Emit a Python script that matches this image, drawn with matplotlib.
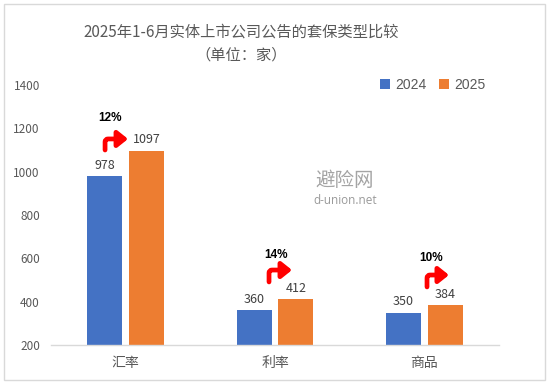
import matplotlib.pyplot as plt
import numpy as np
from matplotlib.patches import Rectangle

plt.rcParams["font.family"] = ["Noto Sans CJK SC", "DejaVu Sans"]

categories = ["汇率", "利率", "商品"]
v2024 = [978, 360, 350]
v2025 = [1097, 412, 384]
growth = ["12%", "14%", "10%"]

# hand-placed bent arrows: (x of riser, y bottom, y of elbow, x of tip, label x, label y)
arrows = [(-0.138, 1100, 1151, 0.016, -0.105, 1248),
          (0.960, 491, 546, 1.114, 1.007, 615),
          (2.018, 468, 523, 2.165, 2.045, 601)]

BLUE, ORANGE = "#4472C4", "#ED7D31"
GREY = "#595959"

fig = plt.figure(figsize=(5.5, 3.84), dpi=100)
ax = fig.add_axes([51 / 550, 39 / 384, 448 / 550, 260 / 384])

x = np.arange(len(categories))
w = 0.235
b1 = ax.bar(x - 0.14, v2024, w, color=BLUE, label="2024", zorder=2)
b2 = ax.bar(x + 0.14, v2025, w, color=ORANGE, label="2025", zorder=2)
for bars in (b1, b2):
    for r in bars:
        ax.annotate(f"{int(r.get_height())}", (r.get_x() + r.get_width() / 2, r.get_height()),
                    xytext=(0, 3), textcoords="offset points", ha="center", va="bottom",
                    fontsize=9, color="#404040")

for (vx, yb, ye, xt, lx, ly), g in zip(arrows, growth):
    ax.annotate("", xy=(xt, ye), xytext=(vx, yb),
                arrowprops=dict(arrowstyle="-|>,head_length=0.5,head_width=0.4", color="#FF0000", lw=3.4,
                                shrinkA=0, shrinkB=0, mutation_scale=12,
                                connectionstyle="angle,angleA=90,angleB=0,rad=3"))
    ax.text(lx, ly, g, ha="center", va="center", fontsize=8.5, fontweight="bold",
            family=["Liberation Sans", "DejaVu Sans"], color="black")

ax.set_xlim(-0.5, 2.5)
ax.set_ylim(200, 1400)
ax.set_yticks(range(200, 1401, 200))
ax.set_xticks(x)
ax.set_xticklabels(categories, fontsize=10, color=GREY)
ax.tick_params(axis="y", length=0, labelsize=8.5, labelcolor=GREY, pad=8)
ax.tick_params(axis="x", length=0, pad=8)
for s in ("top", "right", "left"):
    ax.spines[s].set_visible(False)
ax.spines["bottom"].set_color("#D9D9D9")
ax.spines["bottom"].set_linewidth(1)

leg = ax.legend(loc="lower left", bbox_to_anchor=(380 / 550, (384 - 92) / 384),
                bbox_transform=fig.transFigure, ncol=2, frameon=False, fontsize=10,
                handlelength=0.7, handleheight=0.7, handletextpad=0.4, columnspacing=0.9,
                borderpad=0, borderaxespad=0)
for t in leg.get_texts():
    t.set_color(GREY)
    t.set_family(["Liberation Sans", "DejaVu Sans"])

fig.text(241 / 550, 1 - 32 / 384, "2025年1-6月实体上市公司公告的套保类型比较",
         ha="center", va="center", fontsize=11, color=GREY)
fig.text(241 / 550, 1 - 55 / 384, "（单位：家）", ha="center", va="center",
         fontsize=11, color=GREY)

# watermark
fig.text(345 / 550, 1 - 180 / 384, "避险网", ha="center", va="center", fontsize=14,
         color="#9A9A9A", alpha=0.9)
fig.text(345 / 550, 1 - 200 / 384, "d-union.net", ha="center", va="center", fontsize=8.5,
         color="#9A9A9A", family=["Open Sans", "DejaVu Sans"])

fig.patches.append(Rectangle((4 / 550, 4 / 384), 541 / 550, 376 / 384, transform=fig.transFigure,
                             fill=False, edgecolor="#D9D9D9", lw=1))

fig.savefig("out.png", facecolor="white")
